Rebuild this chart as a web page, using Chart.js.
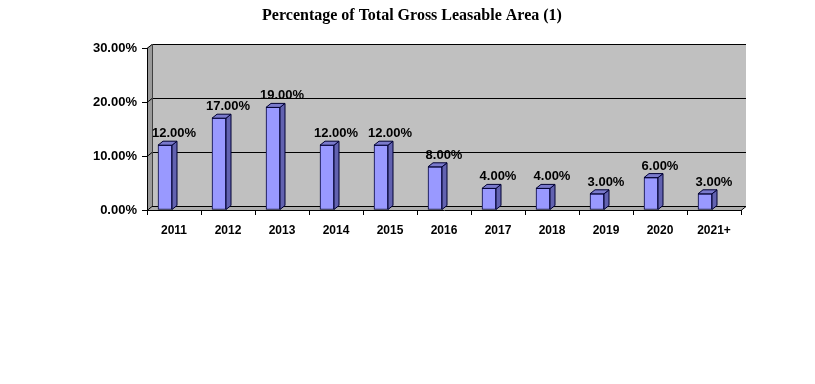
<!DOCTYPE html>
<html>
<head>
<meta charset="utf-8">
<script src="https://cdn.jsdelivr.net/npm/chart.js@4"></script>
<style>
html,body{margin:0;padding:0;background:#fff;}
canvas{display:block;}
</style>
</head>
<body>
<canvas id="c" width="815" height="384"></canvas>
<script>
const titleText = "Percentage of Total Gross Leasable Area (1)";
const categories = ["2011","2012","2013","2014","2015","2016","2017","2018","2019","2020","2021+"];
const values = [12, 17, 19, 12, 12, 8, 4, 4, 3, 6, 3];
const yTicks = [0, 10, 20, 30];

const DX = 5, DY = -4;

const depthPlugin = {
  id: 'depth',
  beforeDraw(chart) {
    const ctx = chart.ctx;
    const {left, right, top, bottom} = chart.chartArea;
    const ys = chart.scales.y;
    ctx.save();
    // back wall
    ctx.fillStyle = '#C0C0C0';
    ctx.fillRect(left + DX, top + DY, right - left, bottom - top);
    // left wall
    ctx.fillStyle = '#9A9A9A';
    ctx.beginPath();
    ctx.moveTo(left, top); ctx.lineTo(left + DX, top + DY);
    ctx.lineTo(left + DX, bottom + DY); ctx.lineTo(left, bottom);
    ctx.closePath(); ctx.fill();
    // floor
    ctx.fillStyle = '#ADADAD';
    ctx.beginPath();
    ctx.moveTo(left, bottom); ctx.lineTo(left + DX, bottom + DY);
    ctx.lineTo(right + DX, bottom + DY); ctx.lineTo(right, bottom);
    ctx.closePath(); ctx.fill();
    // gridlines on walls
    ctx.strokeStyle = '#000000';
    ctx.lineWidth = 1;
    yTicks.forEach(v => {
      const y = Math.round(ys.getPixelForValue(v)) + 0.5;
      ctx.beginPath();
      ctx.moveTo(left, y);
      ctx.lineTo(left + DX, y + DY);
      ctx.lineTo(right + DX, y + DY);
      if (v === 0) ctx.lineTo(right, y);
      ctx.stroke();
    });
    // edge of left wall
    ctx.strokeStyle = '#404040';
    ctx.beginPath();
    ctx.moveTo(left + DX + 0.5, top + DY);
    ctx.lineTo(left + DX + 0.5, bottom + DY);
    ctx.stroke();
    ctx.restore();
  },
  afterDatasetsDraw(chart) {
    const ctx = chart.ctx;
    const meta = chart.getDatasetMeta(0);
    const xs = chart.scales.x;
    ctx.save();
    ctx.lineWidth = 1;
    ctx.strokeStyle = '#000033';
    meta.data.forEach((bar, i) => {
      const p = bar.getProps(['x', 'y', 'base', 'width'], true);
      const xl = p.x - p.width / 2, xr = p.x + p.width / 2;
      const yt = p.y, yb = p.base;
      // side face
      ctx.fillStyle = '#6262B0';
      ctx.beginPath();
      ctx.moveTo(xr, yt); ctx.lineTo(xr + DX, yt + DY);
      ctx.lineTo(xr + DX, yb + DY); ctx.lineTo(xr, yb);
      ctx.closePath(); ctx.fill(); ctx.stroke();
      // top face
      ctx.fillStyle = '#7A7ACC';
      ctx.beginPath();
      ctx.moveTo(xl, yt); ctx.lineTo(xl + DX, yt + DY);
      ctx.lineTo(xr + DX, yt + DY); ctx.lineTo(xr, yt);
      ctx.closePath(); ctx.fill(); ctx.stroke();
      // value label
      ctx.fillStyle = '#000000';
      ctx.font = 'bold 13px "Liberation Sans", Arial, sans-serif';
      ctx.textAlign = 'center';
      ctx.textBaseline = 'alphabetic';
      ctx.fillText(values[i].toFixed(2) + '%', xs.getPixelForValue(i), yt - 8);
    });
    ctx.restore();
  },
  afterDraw(chart) {
    const ctx = chart.ctx;
    ctx.save();
    ctx.fillStyle = '#000000';
    ctx.font = 'bold 16px "Liberation Serif", "Times New Roman", serif';
    ctx.textAlign = 'center';
    ctx.textBaseline = 'middle';
    ctx.fillText(titleText, 412, 16);
    ctx.restore();
  }
};

new Chart(document.getElementById('c'), {
  type: 'bar',
  data: {
    datasets: [{
      data: values.map((v, i) => ({x: i, y: v})),
      xAxisID: 'xb',
      yAxisID: 'y',
      backgroundColor: '#9999FF',
      borderColor: '#000033',
      borderWidth: 1,
      borderSkipped: false,
      barThickness: 14
    }]
  },
  options: {
    responsive: false,
    animation: false,
    events: [],
    layout: { padding: { left: 0, right: 74, top: 48, bottom: 0 } },
    plugins: { legend: { display: false }, tooltip: { enabled: false }, title: { display: false } },
    scales: {
      x: {
        type: 'category',
        labels: categories,
        offset: true,
        position: 'bottom',
        grid: { offset: true, drawOnChartArea: false, tickLength: 5, color: '#000000' },
        border: { display: true, color: '#000000' },
        ticks: { color: '#000000', padding: 8, maxRotation: 0, autoSkip: false,
                 font: { family: '"Liberation Sans", Arial, sans-serif', size: 12, weight: 'bold' } },
        afterFit(s) { s.height = 174; }
      },
      xb: {
        type: 'linear',
        display: false,
        min: -1/3,
        max: 32/3,
        offset: false
      },
      y: {
        type: 'linear',
        min: 0,
        max: 30,
        position: 'left',
        grid: { drawOnChartArea: false, tickLength: 5, color: '#000000' },
        border: { display: true, color: '#000000' },
        ticks: { stepSize: 10, color: '#000000', padding: 5,
                 font: { family: '"Liberation Sans", Arial, sans-serif', size: 13, weight: 'bold' },
                 callback: v => v.toFixed(2) + '%' },
        afterFit(s) { s.width = 147; }
      }
    }
  },
  plugins: [depthPlugin]
});
</script>
</body>
</html>
